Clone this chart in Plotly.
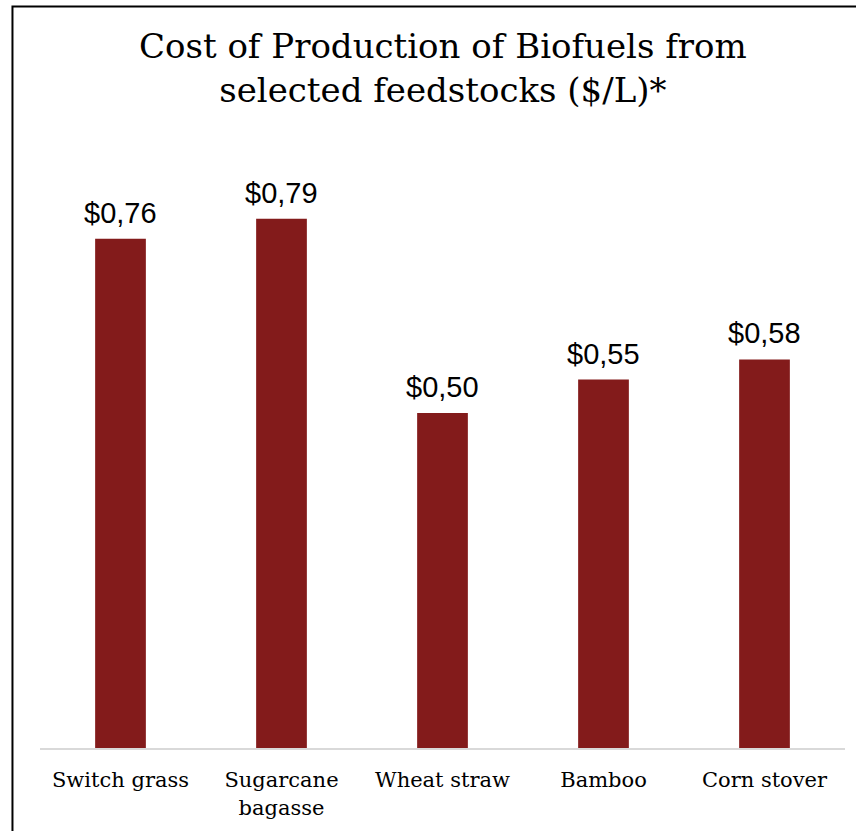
import plotly.graph_objects as go

categories = ["Switch grass", "Sugarcane<br>bagasse", "Wheat straw", "Bamboo", "Corn stover"]
costs = [0.76, 0.79, 0.50, 0.55, 0.58]
labels = ["$" + f"{v:.2f}".replace(".", ",") for v in costs]

title_text = "Cost of Production of Biofuels from<br>selected feedstocks ($/L)*"
bar_color = "#831B1B"

fig = go.Figure()
fig.add_trace(go.Bar(
    x=categories, y=costs, marker=dict(color=bar_color, line=dict(width=0)),
    width=0.315, hoverinfo="skip",
))

for c, v, t in zip(categories, costs, labels):
    fig.add_annotation(x=c, y=v, text=t, showarrow=False, yanchor="bottom",
                       yshift=8, font=dict(family="Liberation Sans, Arial", size=29, color="#000000"))

# title as annotation for exact placement
fig.add_annotation(x=0.5, xref="paper", xanchor="center",
                   y=(748 - 24) / 670, yref="paper", yanchor="top",
                   text=title_text, showarrow=False,
                   font=dict(family="DejaVu Serif, Georgia, serif", size=34, color="#000000"))

fig.add_shape(type="rect", xref="paper", yref="paper",
              x0=-0.0342, x1=1.2, y0=-0.3, y1=1.1067,
              line=dict(color="#000000", width=2), fillcolor="rgba(0,0,0,0)", layer="above")

fig.update_layout(
    width=856, height=831,
    margin=dict(l=40, r=11, t=78, b=83),
    paper_bgcolor="white", plot_bgcolor="white",
    showlegend=False,
    xaxis=dict(showline=True, linecolor="#d9d9d9", linewidth=2, showgrid=False, zeroline=False,
               ticks="outside", ticklen=12, tickcolor="rgba(0,0,0,0)",
               tickfont=dict(family="DejaVu Serif, Georgia, serif", size=21, color="#000000")),
    yaxis=dict(range=[0, 1.0], visible=False, showgrid=False, zeroline=False),
)

fig.write_html("out.html", config={"displayModeBar": False},
               post_script="document.body.style.margin='0';document.body.style.overflow='hidden';")
